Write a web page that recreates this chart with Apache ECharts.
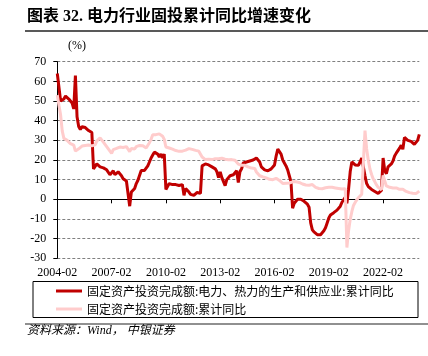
<!DOCTYPE html>
<html><head><meta charset="utf-8">
<script src="https://cdn.jsdelivr.net/npm/echarts@6/dist/echarts.min.js"></script>
<style>html,body{margin:0;padding:0;background:#fff}#c{width:428px;height:356px}</style>
</head><body><div id="c"></div>
<script>
// Monthly cumulative data (Jan merged into Feb), 2004-02 .. 2024-02
const categories = [];
for (let y = 2004; y <= 2024; y++) {
  for (let m = 2; m <= 12; m++) {
    if (y === 2024 && m > 2) break;
    categories.push(y + '-' + String(m).padStart(2, '0'));
  }
}
const yTicks = { min: -30, max: 70, interval: 10 };
const xLabelEvery = 33; // every 3 years

// 固定资产投资完成额:电力、热力的生产和供应业:累计同比
const powerYoY = [
  64, 57, 50, 49, 51, 52.5, 52, 51, 50.5, 49, 46,            // 2004
  63, 42, 37, 35.5, 37, 37, 36.5, 36, 35, 34, 34,            // 2005
  15.5, 16, 18, 17, 16.5, 17, 16, 15.5, 15, 14.5, 12.5,      // 2006
  12, 14.5, 12.5, 12, 14, 13.4, 12, 10.5, 10, 9.3, 8.8,      // 2007
  -3.5, 3.7, 4.6, 5.5, 8, 9.7, 10.5, 14.7, 15.6, 14.7, 15.5, // 2008
  17, 19, 21, 22.5, 24, 23, 23, 21.5, 23, 21, 23,            // 2009
  5, 5.5, 8, 7, 7.5, 8, 7.5, 7, 7, 7.5, 7.5,                 // 2010
  2, 5.5, 4.6, 3.7, 2.5, 1.5, 2, 3, 3.5, 3.7, 3,             // 2011
  17, 18, 18, 17.5, 17.5, 17, 16.5, 16, 15.5, 14, 11,        // 2012
  14, 11, 10, 7, 10, 11, 12, 12, 12.5, 13, 14.5,             // 2013
  8.5, 14, 15.5, 18.5, 18.5, 19, 19, 19.5, 20, 20, 20,       // 2014
  21, 20.5, 19, 16.5, 16, 15, 14.5, 14.5, 14, 15.5, 16,      // 2015
  17.5, 22, 25.5, 25, 23, 20, 19, 17, 15, 12, 9,             // 2016
  -4.5, -2, -1, 0, 0.3, 0, -0.5, -1, -1.4, -2.5, -4,         // 2017
  -12, -15.5, -16.6, -17, -18, -18.3, -18, -17.5, -16, -14.5, -12, // 2018
  -9.5, -8, -7.3, -6.8, -6.4, -5.5, -4.7, -3.5, -1.5, -0.5, 1,     // 2019
  -2, 5, 14, 19, 18.5, 17.5, 17.3, 17.3, 19, 21, 21.5,       // 2020
  12, 8, 6.5, 5.5, 5, 4.5, 4, 3.5, 3, 2.5, 4.5,              // 2021
  21, 14.5, 13, 16.5, 17.5, 18, 19.5, 22, 23.5, 24.5, 26,    // 2022
  27.5, 25.5, 31.5, 30.5, 30, 29.5, 29.5, 29, 28, 27.5, 30,  // 2023
  33                                                         // 2024
];

// 固定资产投资完成额:累计同比
const totalYoY = [
  53, 47.8, 43, 34.8, 31, 30.7, 30, 29.1, 28.3, 28.2, 27.6,
  24.5, 25.3, 25.7, 26.4, 27.1, 27.2, 27.4, 27.7, 27.6, 27.8, 27.2,
  26.6, 27.7, 29.6, 30.3, 31.3, 30.5, 29.1, 28.2, 26.8, 26.6, 24.5,
  23.4, 25.3, 25.5, 25.9, 26.7, 26.6, 26.7, 26.4, 26.9, 26.8, 25.8,
  24.3, 25.9, 25.7, 25.6, 26.8, 27.3, 27.4, 27.6, 27.2, 26.8, 26.1,
  26.5, 28.8, 30.5, 32.9, 33.6, 32.9, 33.0, 33.3, 33.1, 32.1, 30.5,
  26.6, 26.4, 26.1, 25.9, 25.5, 24.9, 24.8, 24.5, 24.4, 24.9, 24.5,
  24.9, 25.0, 25.4, 25.8, 25.6, 25.4, 25.0, 24.9, 24.9, 24.5, 23.8,
  21.5, 20.9, 20.2, 20.1, 20.4, 20.4, 20.2, 20.5, 20.7, 20.7, 20.6,
  21.2, 20.9, 20.6, 20.4, 20.1, 20.1, 20.3, 20.2, 20.1, 19.9, 19.6,
  17.9, 17.6, 17.3, 17.2, 17.3, 17.0, 16.5, 16.1, 15.9, 15.8, 15.7,
  13.9, 13.5, 12.0, 11.4, 11.4, 11.2, 10.9, 10.3, 10.2, 10.2, 10.0,
  10.2, 10.7, 10.5, 9.6, 9.0, 8.1, 8.1, 8.2, 8.3, 8.3, 8.1,
  8.9, 9.2, 8.9, 8.6, 8.6, 8.3, 7.8, 7.5, 7.3, 7.2, 7.2,
  7.9, 7.5, 7.0, 6.1, 6.0, 5.5, 5.3, 5.4, 5.7, 5.9, 5.9,
  6.1, 6.3, 6.1, 5.6, 5.8, 5.7, 5.5, 5.4, 5.2, 5.2, 5.4,
  -24.5, -16.1, -10.3, -6.3, -3.1, -1.6, -0.3, 0.8, 1.8, 2.6, 2.9,
  35.0, 25.6, 19.9, 15.4, 12.6, 10.3, 8.9, 7.3, 6.1, 5.2, 4.9,
  12.2, 9.3, 6.8, 6.2, 6.1, 5.7, 5.8, 5.9, 5.8, 5.3, 5.1,
  5.5, 5.1, 4.7, 4.0, 3.8, 3.4, 3.2, 3.1, 2.9, 2.9, 3.0,
  4.2
];

const seriesNames = ['固定资产投资完成额:电力、热力的生产和供应业:累计同比', '固定资产投资完成额:累计同比'];
const titleText = '图表 32. 电力行业固投累计同比增速变化';
const unitText = '(%)';
const sourceText = '资料来源：Wind， 中银证券';

const serif = 'Liberation Serif, "Times New Roman", serif';
const cjk = '"Noto Sans CJK SC", sans-serif';

const chart = echarts.init(document.getElementById('c'), null, { renderer: 'canvas' });
chart.setOption({
  animation: false,
  backgroundColor: '#fff',
  grid: { left: 57.3, right: 8.7, top: 61.7, bottom: 97.7, containLabel: false },
  xAxis: [
    {
      type: 'category', data: categories, boundaryGap: false,
      axisLine: { onZero: true, lineStyle: { color: '#000', width: 1 } },
      axisTick: { show: true, interval: xLabelEvery - 1, length: 4, lineStyle: { color: '#000' } },
      axisLabel: { show: false }, splitLine: { show: false }
    },
    {
      type: 'category', data: categories, boundaryGap: false, position: 'bottom',
      axisLine: { show: false, onZero: false }, axisTick: { show: false },
      axisLabel: { interval: xLabelEvery - 1, fontFamily: serif, fontSize: 12, color: '#000', margin: 9 },
      splitLine: { show: false }
    }
  ],
  yAxis: {
    type: 'value', min: yTicks.min, max: yTicks.max, interval: yTicks.interval,
    axisLine: { show: true, lineStyle: { color: '#000', width: 1 } },
    axisTick: { show: true, length: 4, lineStyle: { color: '#000' } },
    axisLabel: { fontFamily: serif, fontSize: 12, color: '#000', margin: 11 },
    splitLine: { show: true, lineStyle: { type: [3, 2], color: '#808080', width: 1 } }
  },
  legend: {
    orient: 'vertical', left: 56, top: 284, itemWidth: 26, itemHeight: 3, itemGap: 4,
    icon: 'rect', padding: 0,
    textStyle: { fontFamily: cjk, fontSize: 12, color: '#000', lineHeight: 14 },
    data: seriesNames
  },
  series: [
    { name: seriesNames[0], type: 'line', data: powerYoY, showSymbol: false, symbol: 'none',
      lineStyle: { color: '#C00000', width: 3 }, itemStyle: { color: '#C00000' }, z: 2 },
    { name: seriesNames[1], type: 'line', data: totalYoY, showSymbol: false, symbol: 'none',
      lineStyle: { color: '#FFCCCC', width: 3 }, itemStyle: { color: '#FFCCCC' }, z: 3 }
  ],
  graphic: [
    { type: 'text', left: 27, top: 9, style: { text: titleText, font: 'bold 16px Liberation Serif, "Noto Sans CJK SC"', fill: '#000' } },
    { type: 'line', shape: { x1: 25, y1: 31, x2: 428, y2: 31 }, style: { stroke: '#222', lineWidth: 1.5 } },
    { type: 'text', left: 68, top: 40, style: { text: unitText, font: '12px Liberation Serif', fill: '#000' } },
    { type: 'rect', shape: { x: 33, y: 281.5, width: 385, height: 36 }, style: { fill: 'none', stroke: '#000', lineWidth: 1 } },
    { type: 'line', shape: { x1: 25, y1: 324, x2: 428, y2: 324 }, style: { stroke: '#222', lineWidth: 1.2 } },
    { type: 'text', left: 27, top: 325, style: { text: sourceText, font: 'italic 12px Liberation Serif, "Noto Sans CJK SC"', fill: '#000' } }
  ]
});
</script></body></html>
